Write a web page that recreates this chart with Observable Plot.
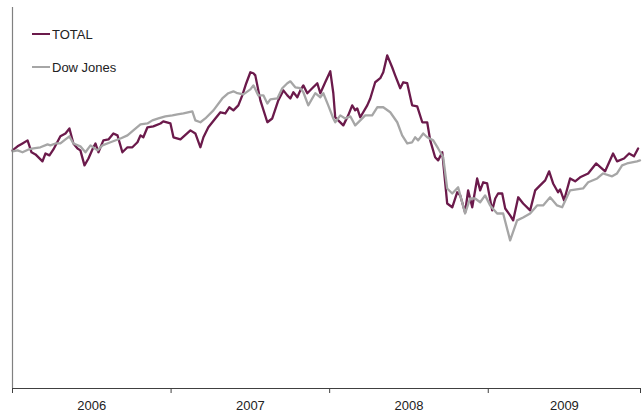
<!DOCTYPE html>
<html>
<head>
<meta charset="utf-8">
<script src="https://cdn.jsdelivr.net/npm/d3@7"></script>
<script src="https://cdn.jsdelivr.net/npm/@observablehq/plot@0.6"></script>
<style>
  html, body { margin: 0; padding: 0; background: #fff; }
  #wrap { position: relative; width: 644px; height: 414px; font-family: "Liberation Sans", Arial, sans-serif; }
  #legend { position: absolute; left: 32px; top: 0; }
  .item { position: absolute; left: 0; display: flex; align-items: center; height: 16px; white-space: nowrap; font-size: 13px; color: #222; }
  .swatch { display: inline-block; width: 18px; height: 2.5px; margin-right: 2px; }
</style>
</head>
<body>
<div id="wrap"></div>
<script>
// Series names and colours
const seriesNames = ["TOTAL", "Dow Jones"];
const seriesColors = ["#6b1a4b", "#a6a6a6"];

// X axis: year boundaries and labels
const yearBoundaries = [2006, 2007, 2008, 2009, 2009.96];
const yearLabels = ["2006", "2007", "2008", "2009"];

// TOTAL (indexed, start = 100)
const totalDates = [2006.000,2006.032,2006.063,2006.095,2006.120,2006.145,2006.189,2006.208,2006.233,2006.258,2006.302,2006.334,2006.359,2006.384,2006.410,2006.428,2006.454,2006.479,2006.510,2006.523,2006.542,2006.573,2006.605,2006.636,2006.662,2006.693,2006.725,2006.756,2006.788,2006.807,2006.825,2006.851,2006.888,2006.933,2006.951,2006.996,2007.015,2007.059,2007.122,2007.153,2007.185,2007.204,2007.235,2007.279,2007.311,2007.342,2007.367,2007.393,2007.424,2007.449,2007.474,2007.500,2007.519,2007.531,2007.563,2007.607,2007.638,2007.676,2007.708,2007.733,2007.752,2007.771,2007.796,2007.815,2007.834,2007.859,2007.890,2007.922,2007.941,2007.972,2008.004,2008.023,2008.035,2008.054,2008.086,2008.117,2008.142,2008.161,2008.174,2008.193,2008.237,2008.256,2008.287,2008.319,2008.338,2008.363,2008.394,2008.413,2008.445,2008.464,2008.489,2008.520,2008.552,2008.584,2008.615,2008.634,2008.665,2008.684,2008.710,2008.741,2008.773,2008.804,2008.823,2008.854,2008.873,2008.899,2008.930,2008.949,2008.968,2008.993,2009.025,2009.044,2009.062,2009.088,2009.107,2009.138,2009.157,2009.189,2009.220,2009.264,2009.296,2009.327,2009.359,2009.384,2009.409,2009.440,2009.453,2009.478,2009.516,2009.548,2009.579,2009.630,2009.680,2009.737,2009.787,2009.812,2009.856,2009.888,2009.919,2009.945];
const totalValues = [100.0,101.7,102.9,104.2,99.2,98.3,95.4,98.7,97.9,100.4,105.9,107.1,109.2,102.9,100.8,100.0,93.7,96.6,101.3,102.9,99.2,104.2,104.6,107.1,106.3,99.2,101.3,101.3,103.4,106.3,105.5,109.7,110.1,111.3,112.2,111.3,105.5,104.6,108.4,107.1,101.3,105.5,109.7,113.4,116.0,115.5,118.1,116.8,118.9,123.1,128.2,132.8,132.4,131.5,121.0,111.8,113.4,121.0,125.2,123.1,121.8,124.4,122.3,125.2,127.3,124.0,126.1,128.2,124.0,128.6,133.2,124.0,113.9,112.6,110.5,114.7,118.9,116.8,117.6,113.9,118.9,121.8,128.6,130.3,132.8,139.9,134.9,131.5,126.1,128.6,128.2,118.9,118.5,111.8,111.8,104.2,97.1,95.8,99.2,77.7,76.1,82.4,81.1,73.9,83.2,76.1,88.2,83.2,86.6,86.1,74.8,79.8,81.9,81.9,75.6,72.7,70.6,80.3,77.7,74.8,83.2,85.3,87.4,91.2,86.1,82.4,83.6,79.0,88.2,87.0,88.7,90.3,94.5,91.2,98.7,95.4,96.6,98.7,97.5,100.8];

// Dow Jones (indexed, start = 100)
const dowDates = [2006.000,2006.032,2006.063,2006.101,2006.132,2006.176,2006.221,2006.239,2006.271,2006.302,2006.334,2006.359,2006.384,2006.428,2006.460,2006.492,2006.536,2006.567,2006.618,2006.681,2006.725,2006.762,2006.807,2006.851,2006.882,2006.920,2006.964,2007.008,2007.040,2007.078,2007.134,2007.153,2007.185,2007.216,2007.267,2007.323,2007.361,2007.393,2007.418,2007.456,2007.500,2007.519,2007.550,2007.582,2007.607,2007.626,2007.670,2007.701,2007.733,2007.752,2007.783,2007.815,2007.834,2007.865,2007.909,2007.941,2007.960,2007.991,2008.023,2008.035,2008.067,2008.098,2008.130,2008.161,2008.193,2008.224,2008.268,2008.300,2008.338,2008.382,2008.426,2008.457,2008.489,2008.520,2008.539,2008.558,2008.590,2008.615,2008.653,2008.684,2008.716,2008.741,2008.773,2008.810,2008.854,2008.886,2008.917,2008.949,2008.980,2009.012,2009.056,2009.094,2009.138,2009.182,2009.220,2009.264,2009.308,2009.346,2009.390,2009.434,2009.466,2009.516,2009.598,2009.630,2009.687,2009.724,2009.781,2009.812,2009.844,2009.875,2009.938,2009.957];
const dowValues = [99.6,100.0,99.2,100.4,100.8,101.3,102.5,102.1,102.9,102.9,104.6,105.9,102.9,101.7,99.2,102.1,100.0,102.1,103.4,105.0,106.3,108.4,110.9,111.3,112.6,113.4,114.3,114.7,115.1,115.5,116.4,112.6,111.8,113.4,116.8,121.8,124.0,124.8,124.0,123.5,125.6,127.3,123.1,123.1,119.7,121.4,121.8,126.1,128.2,129.0,126.5,126.1,124.4,118.9,124.0,122.3,124.0,118.9,113.4,111.8,114.7,113.4,114.3,110.5,112.6,114.7,114.7,118.1,118.1,116.0,111.8,106.3,102.9,103.4,105.5,104.2,107.1,105.5,104.2,100.8,97.1,84.0,81.9,84.5,73.5,79.8,79.8,78.2,81.1,76.9,73.5,73.5,62.2,70.6,71.8,73.5,76.9,76.9,80.3,76.9,76.1,83.2,84.0,86.6,88.2,90.3,89.1,90.3,93.7,94.5,95.4,95.8];

const data = [
  ...totalDates.map((d, i) => ({series: seriesNames[0], t: d, v: totalValues[i]})),
  ...dowDates.map((d, i) => ({series: seriesNames[1], t: d, v: dowValues[i]}))
];
const midpoints = yearLabels.map((_, i) => (yearBoundaries[i] + yearBoundaries[i + 1]) / 2);

const chart = Plot.plot({
  width: 644,
  height: 414,
  marginLeft: 12,
  marginRight: 4,
  marginTop: 7,
  marginBottom: 26,
  style: {fontFamily: "'Liberation Sans', Arial, sans-serif", fontSize: "13px", color: "#222", background: "#fff"},
  x: {domain: [yearBoundaries[0], yearBoundaries[yearBoundaries.length - 1]]},
  y: {domain: [0, 160], axis: null},
  color: {domain: seriesNames, range: seriesColors},
  marks: [
    Plot.lineY(data, {x: "t", y: "v", z: "series", stroke: "series", strokeWidth: 2.3, strokeLinejoin: "round"}),
    Plot.ruleX([yearBoundaries[0]], {stroke: "#808080", strokeWidth: 1.2}),
    Plot.ruleY([0], {stroke: "#404040", strokeWidth: 1}),
    Plot.axisX(yearBoundaries, {tickSize: 5, tickFormat: () => "", stroke: "#404040", label: null}),
    Plot.axisX(midpoints, {tickSize: 0, tickPadding: 12.5, tickFormat: (d, i) => yearLabels[i], fontSize: 13, label: null, fill: "#222"})
  ]
});

const wrap = document.getElementById("wrap");
wrap.appendChild(chart);

const legend = document.createElement("div");
legend.id = "legend";
const rowTops = [26, 59];
seriesNames.forEach((name, i) => {
  const item = document.createElement("div");
  item.className = "item";
  item.style.top = rowTops[i] + "px";
  const sw = document.createElement("span");
  sw.className = "swatch";
  sw.style.background = seriesColors[i];
  item.appendChild(sw);
  item.appendChild(document.createTextNode(name));
  legend.appendChild(item);
});
wrap.appendChild(legend);
</script>
</body>
</html>
